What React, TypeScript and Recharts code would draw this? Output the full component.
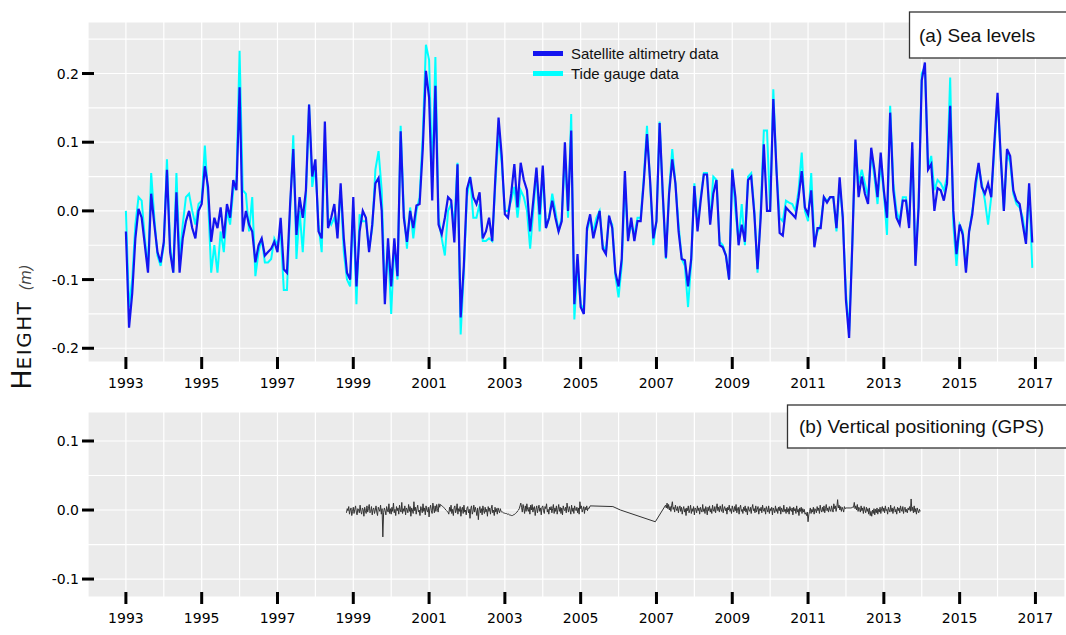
import { CartesianGrid, Legend, Line, LineChart, XAxis, YAxis } from "recharts";

// monthly means, first point = January 1993
const START_YEAR = 1993;

// Satellite altimetry, one row per year (Jan..Dec)
const satellite = [
  -0.03, -0.17, -0.12, -0.04, 0.003, -0.01, -0.05, -0.09, 0.025, -0.02, -0.06, -0.075, // 1993
  -0.045, 0.06, -0.06, -0.09, 0.027, -0.09, -0.04, -0.015, 0.0, -0.025, -0.04, 0.0, // 1994
  0.01, 0.065, 0.035, -0.045, -0.01, -0.025, 0.005, -0.04, 0.01, -0.01, 0.045, 0.03, // 1995
  0.18, -0.03, 0.0, -0.02, -0.03, -0.075, -0.05, -0.04, -0.065, -0.06, -0.055, -0.045, // 1996
  -0.06, -0.01, -0.085, -0.09, 0.01, 0.09, -0.035, 0.02, -0.01, 0.03, 0.155, 0.05, // 1997
  0.075, -0.03, -0.04, 0.13, -0.025, -0.01, 0.01, -0.04, 0.04, -0.04, -0.09, -0.1, // 1998
  0.02, -0.11, -0.03, 0.0, -0.01, -0.06, -0.02, 0.04, 0.048, 0.0, -0.136, -0.04, // 1999
  -0.11, -0.04, -0.095, 0.116, -0.01, -0.045, 0.0, -0.025, 0.008, 0.01, 0.09, 0.204, // 2000
  0.165, 0.015, 0.182, -0.02, -0.034, -0.01, 0.02, 0.015, -0.046, 0.068, -0.155, -0.08, // 2001
  0.032, 0.049, 0.02, 0.01, 0.027, -0.04, -0.03, -0.01, -0.044, 0.05, 0.136, 0.08, // 2002
  -0.005, -0.01, 0.025, 0.068, 0.005, 0.07, 0.045, 0.03, -0.03, 0.015, 0.063, -0.005, // 2003
  0.066, -0.025, -0.01, 0.015, -0.01, -0.03, -0.015, 0.1, 0.0, 0.117, -0.136, -0.063, // 2004
  -0.14, -0.15, -0.025, -0.005, -0.04, -0.02, 0.0, -0.055, -0.063, -0.007, -0.025, -0.09, // 2005
  -0.11, -0.07, 0.058, -0.044, -0.01, -0.044, -0.015, -0.015, 0.043, 0.112, 0.043, -0.04, // 2006
  -0.015, 0.128, 0.025, -0.068, 0.025, 0.075, 0.04, -0.03, -0.07, -0.072, -0.11, -0.07, // 2007
  0.036, -0.03, 0.015, 0.053, 0.053, -0.02, 0.025, 0.045, -0.05, -0.053, -0.065, -0.1, // 2008
  0.06, 0.02, -0.05, -0.02, -0.045, 0.045, 0.05, -0.005, -0.085, -0.01, 0.097, 0.0, // 2009
  0.0, 0.163, 0.06, -0.032, -0.036, 0.005, 0.0, -0.005, -0.01, 0.02, 0.058, 0.005, // 2010
  -0.005, 0.03, -0.053, -0.025, -0.025, 0.02, 0.012, 0.02, 0.02, -0.025, 0.049, -0.01, // 2011
  -0.13, -0.185, -0.05, 0.104, 0.02, 0.05, 0.025, 0.01, 0.092, 0.06, 0.02, 0.085, // 2012
  0.03, -0.01, 0.143, 0.03, -0.01, -0.02, 0.015, 0.015, -0.025, 0.1, -0.08, 0.005, // 2013
  0.19, 0.216, 0.06, 0.068, 0.0, 0.033, 0.03, 0.015, 0.04, 0.153, 0.0, -0.063, // 2014
  -0.02, -0.035, -0.09, -0.03, -0.005, 0.04, 0.07, 0.035, 0.025, 0.04, 0.02, 0.1, // 2015
  0.172, 0.08, 0.0, 0.09, 0.08, 0.03, 0.015, 0.01, -0.02, -0.048, 0.04, -0.046, // 2016
];

// Tide gauge, same months
const tideGauge = [
  0.0, -0.14, -0.1, -0.02, 0.02, 0.015, -0.04, -0.085, 0.055, -0.01, -0.065, -0.08, // 1993
  -0.05, 0.075, -0.05, -0.09, 0.055, -0.07, -0.02, 0.02, 0.025, 0.0, -0.02, 0.01, // 1994
  0.015, 0.095, 0.02, -0.09, -0.05, -0.09, -0.03, -0.06, 0.0, -0.02, 0.03, 0.045, // 1995
  0.233, 0.03, 0.025, -0.03, 0.02, -0.095, -0.06, -0.04, -0.075, -0.075, -0.07, -0.04, // 1996
  -0.05, -0.03, -0.115, -0.115, 0.0, 0.11, -0.07, 0.0, -0.06, 0.02, 0.155, 0.035, // 1997
  0.065, -0.02, -0.06, 0.1, -0.01, -0.02, -0.01, -0.03, 0.03, -0.06, -0.1, -0.11, // 1998
  0.005, -0.136, -0.005, -0.015, -0.015, -0.055, -0.025, 0.06, 0.087, 0.03, -0.12, -0.05, // 1999
  -0.15, -0.05, -0.1, 0.124, 0.0, -0.055, 0.005, -0.04, 0.0, 0.02, 0.11, 0.242, // 2000
  0.22, 0.05, 0.224, -0.01, -0.04, -0.065, 0.0, 0.01, -0.02, 0.07, -0.18, -0.09, // 2001
  0.02, 0.05, -0.01, -0.01, 0.01, -0.044, -0.044, -0.04, -0.044, 0.04, 0.112, 0.07, // 2002
  0.0, 0.0, 0.015, 0.035, -0.01, 0.03, 0.02, 0.0, -0.055, 0.0, 0.06, -0.03, // 2003
  0.06, -0.025, -0.01, 0.025, 0.0, -0.03, -0.01, 0.08, -0.01, 0.141, -0.158, -0.08, // 2004
  -0.135, -0.145, -0.03, -0.01, -0.03, -0.01, 0.0, -0.05, -0.06, -0.01, -0.02, -0.095, // 2005
  -0.126, -0.08, 0.04, -0.04, -0.02, -0.035, -0.01, -0.01, 0.05, 0.124, 0.04, -0.05, // 2006
  -0.015, 0.13, 0.02, -0.07, 0.03, 0.09, 0.04, -0.02, -0.07, -0.08, -0.14, -0.075, // 2007
  0.04, -0.02, 0.02, 0.055, 0.055, -0.015, 0.05, 0.045, -0.045, -0.05, -0.065, -0.1, // 2008
  0.062, 0.0, -0.045, 0.01, -0.05, 0.05, 0.055, 0.0, -0.09, 0.0, 0.117, 0.117, // 2009
  0.0, 0.177, 0.06, -0.01, -0.015, 0.015, 0.012, 0.01, 0.0, 0.03, 0.085, 0.0, // 2010
  -0.015, 0.055, -0.045, -0.03, -0.02, 0.02, 0.015, 0.02, 0.02, -0.03, 0.04, -0.01, // 2011
  -0.12, -0.175, -0.05, 0.1, 0.04, 0.06, 0.04, 0.02, 0.085, 0.05, 0.01, 0.07, // 2012
  0.025, -0.035, 0.153, 0.04, 0.0, -0.015, 0.02, 0.02, -0.02, 0.09, -0.075, 0.01, // 2013
  0.2, 0.21, 0.06, 0.08, 0.03, 0.045, 0.04, 0.03, 0.05, 0.194, -0.02, -0.08, // 2014
  -0.02, -0.03, -0.085, -0.03, 0.0, 0.03, 0.065, 0.04, 0.015, -0.02, 0.02, 0.09, // 2015
  0.165, 0.08, 0.0, 0.085, 0.07, 0.025, 0.01, 0.005, -0.01, -0.045, 0.035, -0.083, // 2016
];

// GPS vertical position: two dense runs sampled every 0.02 yr, joined by a few sparse fixes
const GPS_STEP = 0.02;
const GPS_A_START = 1998.82;
const gpsRunA = [
  -0.004, 0.002, -0.001, 0.005, -0.006, 0.0, 0.003, -0.008, -0.002, 0.004, -0.005, 0.001, 0.006, -0.003, -0.007, 0.002, 0.0, -0.004, 0.007, -0.002,
  -0.006, 0.003, 0.001, -0.009, 0.004, -0.001, -0.005, 0.006, -0.003, 0.002, 0.008, -0.004, -0.002, 0.005, -0.007, 0.001, 0.003, -0.005, 0.0, 0.006,
  -0.003, -0.008, 0.004, 0.001, -0.002, 0.007, -0.006, 0.002, -0.039, -0.004, 0.003, -0.001, -0.007, 0.005, 0.0, -0.003, 0.009, -0.005, 0.002, -0.006,
  0.004, -0.002, 0.01, -0.004, 0.001, -0.008, 0.005, -0.001, 0.003, -0.006, 0.007, 0.0, -0.003, 0.011, -0.005, 0.002, -0.002, 0.006, -0.007, 0.003,
  0.001, -0.004, 0.008, -0.002, 0.005, -0.009, 0.003, 0.0, -0.005, 0.012, -0.001, 0.004, -0.006, 0.002, 0.007, -0.003, 0.0, -0.008, 0.005, 0.002,
  -0.004, 0.009, -0.002, 0.003, -0.007, 0.006, 0.0, -0.003, 0.004, -0.01, 0.002, 0.007, -0.001, -0.005, 0.01, 0.003, -0.004, 0.006, -0.002, 0.008,
  0.002, -0.003, 0.009, 0.004, 0.008, 0.007, 0.006, 0.005, 0.004, 0.003, 0.002, 0.0, -0.001, -0.002, -0.003, -0.006, 0.004, -0.002, 0.007, -0.005,
  0.001, -0.008, 0.003, 0.006, -0.004, 0.0, 0.009, -0.006, 0.002, -0.002, 0.005, -0.009, 0.001, 0.004, -0.005, 0.007, -0.003, 0.0, -0.007, 0.003,
  0.005, -0.004, 0.001, -0.012, 0.002, 0.006, -0.006, -0.002, 0.007, -0.003, 0.004, -0.001, -0.008, 0.003, -0.014, 0.0, 0.005, -0.004, 0.002, -0.007,
  0.006, -0.001, -0.005, 0.004, -0.003, 0.001, -0.009, 0.005, -0.002, 0.003, -0.006, 0.002, 0.007, -0.004, 0.0, -0.008, 0.004, -0.003, 0.002, -0.006,
  0.003, -0.001, -0.004, 0.002, -0.002, -0.003, -0.003, -0.004, -0.004, -0.005, -0.005, -0.005, -0.006, -0.006, -0.006, -0.007, -0.007, -0.008, -0.008, -0.008,
  -0.007, -0.007, -0.006, -0.005, -0.004, -0.003, -0.001, 0.0, 0.002, 0.006, 0.01, 0.004, -0.003, 0.008, 0.002, -0.005, 0.006, -0.002, 0.009, 0.001,
  -0.002, 0.004, -0.006, 0.007, 0.0, 0.008, -0.003, 0.003, 0.005, -0.008, 0.001, 0.006, -0.004, 0.002, 0.007, -0.002, 0.003, -0.007, 0.004, 0.006,
  -0.001, -0.005, 0.005, 0.002, 0.009, -0.003, 0.001, -0.006, 0.004, 0.0, 0.005, -0.004, 0.002, 0.008, -0.005, 0.003, -0.002, 0.006, -0.006, 0.001,
  0.008, -0.002, 0.004, -0.005, 0.003, -0.007, 0.006, 0.001, -0.001, 0.004, -0.004, 0.01, 0.002, -0.003, 0.005, 0.0, -0.006, 0.007, -0.002, 0.003,
  -0.005, 0.006, 0.001, -0.001, 0.004, -0.004, 0.003, -0.006, 0.012, 0.002, 0.006, -0.003, 0.001, 0.005, -0.005, 0.004, 0.0, 0.006, -0.001, 0.003,
  0.002,
];
const gpsGapYears = [2005.25, 2005.85, 2006.05, 2006.97];
const gpsGapHeights = [0.006, 0.005, 0.0, -0.017];
const GPS_B_START = 2007.24;
const gpsRunB = [
  0.007, 0.003, 0.01, 0.002, 0.008, 0.0, 0.005, -0.002, 0.006, 0.012, 0.001, 0.004, -0.003, 0.007, 0.002, -0.001, 0.005, -0.004, 0.003, 0.006,
  -0.002, 0.004, -0.006, 0.001, 0.005, -0.003, 0.002, -0.008, 0.003, -0.001, 0.006, -0.004, 0.0, 0.007, -0.005, 0.002, -0.002, 0.005, -0.007, 0.003,
  0.001, -0.004, 0.006, -0.001, 0.003, -0.006, 0.004, 0.0, -0.003, 0.008, -0.002, 0.002, -0.005, 0.005, 0.001, -0.007, 0.004, -0.001, 0.006, -0.003,
  0.002, -0.005, 0.007, 0.0, -0.002, 0.005, -0.004, 0.003, 0.009, -0.001, 0.004, -0.003, 0.006, 0.001, -0.002, 0.008, -0.004, 0.002, 0.005, -0.001,
  0.003, -0.006, 0.004, 0.0, 0.007, -0.002, 0.002, -0.005, 0.006, 0.001, -0.003, 0.005, -0.001, 0.008, -0.004, 0.002, 0.004, -0.006, 0.003, 0.007,
  -0.002, 0.001, -0.005, 0.004, -0.001, 0.006, -0.003, 0.002, -0.007, 0.005, 0.0, -0.002, 0.004, -0.005, 0.003, 0.008, -0.001, 0.002, -0.004, 0.006,
  -0.003, 0.001, 0.005, -0.006, 0.002, -0.001, 0.004, -0.004, 0.007, 0.0, -0.002, 0.003, -0.006, 0.005, 0.001, -0.003, 0.006, -0.005, 0.002, -0.001,
  0.004, -0.007, 0.003, 0.0, -0.004, 0.006, -0.002, 0.002, -0.005, 0.004, -0.001, 0.005, -0.006, 0.003, 0.0, -0.003, 0.007, -0.002, 0.001, -0.005,
  0.004, -0.003, 0.002, -0.006, 0.005, 0.0, -0.002, 0.003, -0.007, 0.004, -0.001, 0.002, -0.005, 0.006, -0.003, 0.001, -0.008, 0.003, -0.002, 0.004,
  -0.005, 0.002, -0.003, 0.001, -0.006, -0.004, -0.008, -0.003, -0.017, -0.007, -0.002, 0.003, -0.005, 0.001, -0.003, 0.004, -0.006, 0.002, 0.0, -0.004,
  0.005, -0.001, 0.003, -0.005, 0.007, 0.0, -0.003, 0.004, -0.002, 0.006, -0.004, 0.002, 0.008, -0.001, 0.003, -0.003, 0.005, 0.0, -0.002, 0.006,
  0.001, -0.003, 0.009, 0.002, 0.006, -0.002, 0.004, 0.015, 0.003, 0.007, 0.0, 0.005, -0.002, 0.004, 0.001, -0.003, 0.005, 0.002, 0.003, 0.003,
  0.003, 0.003, 0.003, 0.003, 0.003, 0.003, 0.004, 0.004, 0.004, 0.011, 0.002, 0.006, 0.0, 0.008, -0.002, 0.004, 0.001, -0.003, 0.006, -0.001,
  0.003, -0.005, 0.005, 0.0, -0.004, 0.004, -0.002, 0.002, -0.006, 0.003, -0.008, -0.002, -0.009, 0.0, -0.005, 0.002, -0.007, 0.001, -0.004, 0.003,
  -0.006, 0.001, -0.003, 0.004, -0.005, 0.002, 0.005, -0.002, 0.003, -0.004, 0.006, -0.001, 0.001, -0.006, 0.004, 0.0, -0.003, 0.007, -0.002, 0.003,
  -0.005, 0.002, 0.005, -0.003, 0.001, -0.006, 0.004, -0.001, 0.003, -0.004, 0.006, 0.0, -0.002, 0.005, -0.005, 0.002, 0.004, -0.003, 0.001, -0.004,
  0.003, 0.0, 0.005, -0.002, 0.016, -0.001, 0.004, -0.004, 0.006, -0.003, 0.002, -0.006, 0.003, -0.001, -0.004, 0.001, -0.002,
];

// axes
const yearTicks = Array.from({ length: 26 }, (_, i) => 1992 + i);
const yearLabels = [1993, 1995, 1997, 1999, 2001, 2003, 2005, 2007, 2009, 2011, 2013, 2015, 2017];
const seaTicks = [-0.2, -0.15, -0.1, -0.05, 0, 0.05, 0.1, 0.15, 0.2, 0.25];
const seaLabels = [-0.2, -0.1, 0, 0.1, 0.2];
const gpsTicks = [-0.1, -0.05, 0, 0.05, 0.1];
const gpsLabels = [-0.1, 0, 0.1];

const legendItems = [
  { label: "Satellite altimetry data", color: "#1414f0" },
  { label: "Tide gauge data", color: "#00ffff" },
];

const seaData = satellite.map((v, i) => ({
  year: START_YEAR + i / 12,
  satellite: v,
  tide: tideGauge[i],
}));

const gpsData = [
  ...gpsRunA.map((h, i) => ({ year: GPS_A_START + i * GPS_STEP, h })),
  ...gpsGapYears.map((y, i) => ({ year: y, h: gpsGapHeights[i] })),
  ...gpsRunB.map((h, i) => ({ year: GPS_B_START + i * GPS_STEP, h })),
];

const tickFont = "'DejaVu Sans', Verdana, sans-serif";
const textFont = "'Liberation Sans', Arial, sans-serif";

const XTick = (props: any) => {
  const { x, y, payload } = props;
  const yr = Math.round(payload.value);
  if (!yearLabels.includes(yr)) return <g />;
  return (
    <g>
      <rect x={x - 1.5} y={y - 5} width={3} height={12} fill="#000" />
      <text x={x} y={y + 26} textAnchor="middle" fontFamily={tickFont} fontSize={14} fill="#000">
        {yr}
      </text>
    </g>
  );
};

const makeYTick = (labels: number[]) => (props: any) => {
  const { x, y, payload } = props;
  if (!labels.includes(payload.value)) return <g />;
  return (
    <g>
      <rect x={x - 6} y={y - 1.5} width={12} height={3} fill="#000" />
      <text x={x - 9} y={y + 5} textAnchor="end" fontFamily={tickFont} fontSize={14} fill="#000">
        {payload.value.toFixed(1)}
      </text>
    </g>
  );
};

function SeaLegend() {
  return (
    <div style={{ fontFamily: textFont, fontSize: 15, color: "#111" }}>
      {legendItems.map((it) => (
        <div key={it.label} style={{ display: "flex", alignItems: "center", height: 20 }}>
          <span style={{ display: "inline-block", width: 30, height: 5, background: it.color, marginRight: 8 }} />
          <span>{it.label}</span>
        </div>
      ))}
    </div>
  );
}

export default function App() {
  return (
    <div style={{ position: "absolute", left: 0, top: 0, width: 1066, height: 635, background: "#fff" }}>
      <div style={{ position: "absolute", left: 0, top: 0 }}>
        <LineChart width={1066} height={400} data={seaData} margin={{ top: 22, right: 1, bottom: 0, left: 0 }}>
          <CartesianGrid fill="#ebebeb" stroke="#ffffff" strokeWidth={1.2} />
          <XAxis
            dataKey="year"
            type="number"
            domain={[1992, 2017.78]}
            ticks={yearTicks}
            interval={0}
            height={38}
            axisLine={false}
            tickLine={false}
            tickSize={0}
            tickMargin={0}
            tick={<XTick />}
          />
          <YAxis
            type="number"
            domain={[-0.22, 0.275]}
            ticks={seaTicks}
            interval={0}
            width={88}
            axisLine={false}
            tickLine={false}
            tickSize={0}
            tickMargin={0}
            tick={makeYTick(seaLabels)}
          />
          <Legend
            layout="vertical"
            align="center"
            verticalAlign="middle"
            wrapperStyle={{ position: "absolute", left: 533, top: 43, width: "auto" }}
            content={() => <SeaLegend />}
          />
          <Line dataKey="tide" stroke="#00ffff" strokeWidth={2} dot={false} isAnimationActive={false} />
          <Line dataKey="satellite" stroke="#1414f0" strokeWidth={2.2} dot={false} isAnimationActive={false} />
        </LineChart>
      </div>
      <div style={{ position: "absolute", left: 0, top: 400 }}>
        <LineChart width={1066} height={235} data={gpsData} margin={{ top: 12, right: 1, bottom: 0, left: 0 }}>
          <CartesianGrid fill="#ebebeb" stroke="#ffffff" strokeWidth={1.2} />
          <XAxis
            dataKey="year"
            type="number"
            domain={[1992, 2017.78]}
            ticks={yearTicks}
            interval={0}
            height={38}
            axisLine={false}
            tickLine={false}
            tickSize={0}
            tickMargin={0}
            tick={<XTick />}
          />
          <YAxis
            type="number"
            domain={[-0.126, 0.142]}
            ticks={gpsTicks}
            interval={0}
            width={88}
            axisLine={false}
            tickLine={false}
            tickSize={0}
            tickMargin={0}
            tick={makeYTick(gpsLabels)}
          />
          <Line dataKey="h" stroke="#333333" strokeWidth={1} dot={false} isAnimationActive={false} />
        </LineChart>
      </div>
      <svg width={1066} height={635} style={{ position: "absolute", left: 0, top: 0, pointerEvents: "none" }}>
        <text transform="translate(31,327) rotate(-90)" textAnchor="middle" fontFamily={tickFont} fill="#111">
          <tspan fontSize={27}>H</tspan>
          <tspan fontSize={20} letterSpacing={1.5}>EIGHT</tspan>
          <tspan fontSize={15} fontStyle="italic" fill="#444" dx={10}>(m)</tspan>
        </text>
        <rect x={909.5} y={12} width={170} height={46} fill="#fff" stroke="#333" strokeWidth={1.3} />
        <text x={919} y={42} fontFamily={textFont} fontSize={19} fill="#111">(a) Sea levels</text>
        <rect x={787.5} y={405} width={290} height={43} fill="#fff" stroke="#333" strokeWidth={1.3} />
        <text x={799} y={433} fontFamily={textFont} fontSize={19} fill="#111">(b) Vertical positioning (GPS)</text>
      </svg>
    </div>
  );
}
